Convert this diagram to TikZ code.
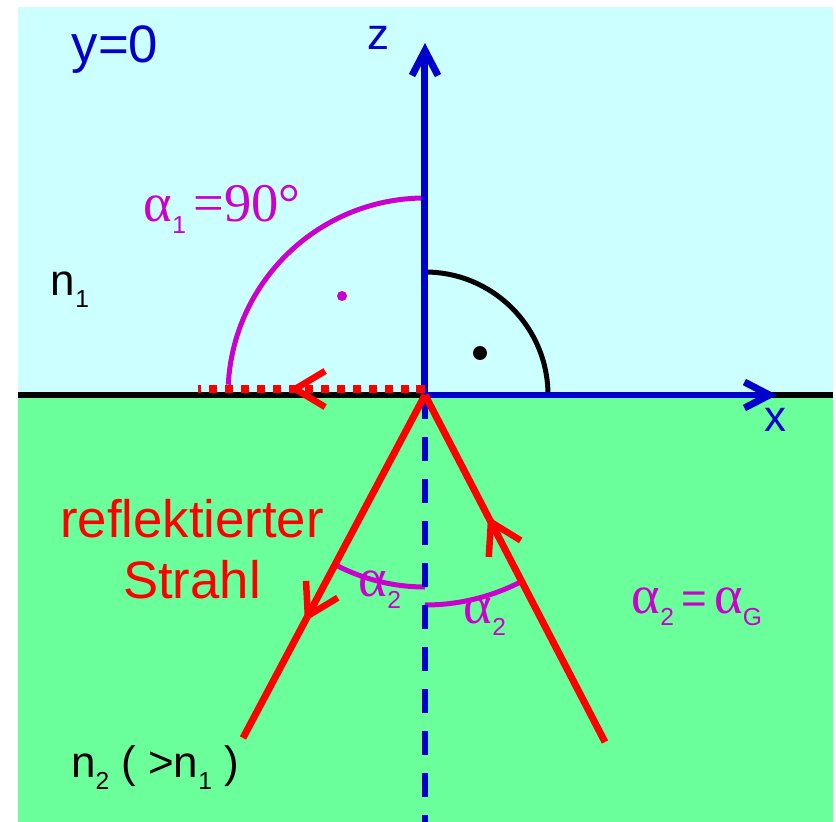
\documentclass[tikz,border=0pt]{standalone}
\usepackage{fontspec}
\setmainfont{Liberation Sans}
\newfontfamily\greekfont{Liberation Serif}
\usepackage{tikz}
\usetikzlibrary{arrows.meta,decorations.markings}

\definecolor{upperbg}{HTML}{CCFFFF}
\definecolor{lowerbg}{HTML}{6BFF9B}
\definecolor{axisblue}{HTML}{0000CC}
\definecolor{anglemag}{HTML}{CC00CC}

\newcommand{\idx}[1]{\raisebox{-0.27em}{\fontsize{14}{14}\selectfont #1}}
\newcommand{\galpha}{{\greekfont\fontsize{31}{31}\selectfont α}}

\begin{document}
\begin{tikzpicture}[
  x=0.02cm,y=0.02cm,
  lbl/.style={inner sep=0pt,font=\fontsize{25}{30}\selectfont},
  biglbl/.style={inner sep=0pt,font=\fontsize{30}{35}\selectfont,align=center},
  axis/.style={axisblue,line width=0.14cm,
               -{Straight Barb[length=0.5cm,width=0.52cm]}},
  ray/.style={red,line width=0.14cm},
  midarrow/.style={postaction={decorate},decoration={markings,
      mark=at position #1 with {\arrow{Straight Barb[length=0.6cm,width=0.72cm,line width=0.13cm]}}}},
  anglearc/.style={anglemag,line width=0.1cm},
]
  \useasboundingbox (-425,-427) rectangle (411,395);
  % media
  \fill[upperbg] (-407,0) rectangle (408,388);
  \fill[lowerbg] (-407,-427) rectangle (408,0);
  \coordinate (O) at (0,0);
  \coordinate (leftedge) at (-407,0);
  \coordinate (rightedge) at (408,0);
  \draw[black,line width=0.14cm] (leftedge) -- (rightedge);

  % points
  \coordinate (ztip)  at (0,352);
  \coordinate (xtip)  at (352,0);
  \coordinate (dashend) at (0,-427);
  \coordinate (refl)  at (-182,-343);
  \coordinate (inc)   at (180,-347);
  \coordinate (graze) at (-227,6);
  \coordinate (Oup)   at (0,6);

  % angles
  \draw[anglearc] (0,197) arc[start angle=90,end angle=177,radius=197];
  \fill[anglemag] (-83,99) circle[radius=5];
  \draw[black,line width=0.1cm] (0,123) arc[start angle=90,end angle=0,radius=123];
  \fill[black] (55,42) circle[radius=7];
  \draw[anglearc] (0,-192) arc[start angle=-90,end angle=-117.95,radius=192];
  \draw[anglearc] (0,-210) arc[start angle=-90,end angle=-62.58,radius=210];

  % axes
  \draw[axisblue,line width=0.12cm,dash pattern=on 0.48cm off 0.36cm] (O) -- (dashend);
  \draw[axis] (O) -- (ztip);
  \draw[axis] (O) -- (xtip);

  % rays
  \draw[ray,midarrow=0.66] (O) -- (refl);
  \draw[ray,midarrow=0.65] (inc) -- (O);
  \draw[red,line width=0.17cm,dash pattern=on 0.17cm off 0.15cm,midarrow=0.6] (Oup) -- (graze);

  % labels
  \node[biglbl,text=axisblue] (ylabel) at (-310,345) {y=0};
  \node[lbl,text=axisblue] (zlabel) at (-47,357) {z};
  \node[lbl,text=axisblue] (xlabel) at (350,-25) {x};
  \node[lbl] (none) at (-355,105) {n\idx{1}};
  \node[lbl,text=anglemag] (alphaone) at (-203,186) {\galpha\idx{1}\,{\greekfont\fontsize{31}{33}\selectfont =90°}};
  \node[lbl,text=anglemag] (alphaleft) at (-45,-195) {\galpha\idx{2}};
  \node[lbl,text=anglemag] (alpharight) at (60,-222) {\galpha\idx{2}};
  \node[lbl,text=anglemag] (alphacrit) at (272,-212) {\galpha\idx{2}\,=\,\galpha\idx{G}};
  \node[biglbl,text=red] (refltext) at (-233,-154) {reflektierter\\Strahl};
  \node[lbl] (ntwo) at (-270,-373) {n\idx{2} ( >n\idx{1} )};
\end{tikzpicture}
\end{document}
